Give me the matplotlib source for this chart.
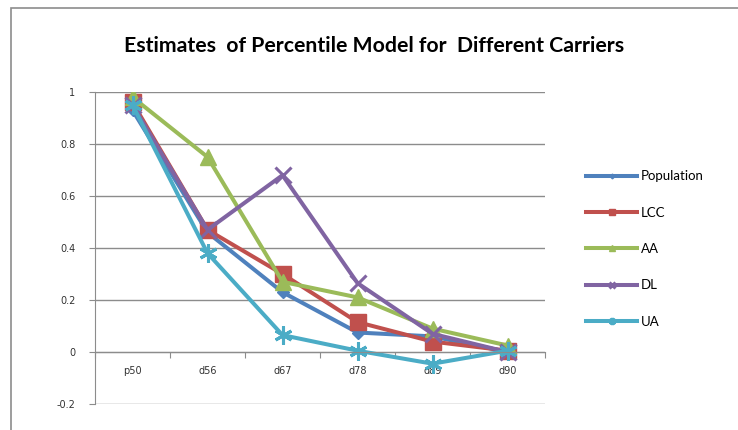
import matplotlib.pyplot as plt
from matplotlib.patches import Rectangle

categories = ['p50', 'd56', 'd67', 'd78', 'd89', 'd90']
population = [0.93, 0.46, 0.23, 0.075, 0.06, 0.0]
lcc = [0.96, 0.47, 0.30, 0.115, 0.04, 0.005]
aa = [0.98, 0.75, 0.27, 0.21, 0.09, 0.025]
dl = [0.95, 0.47, 0.68, 0.265, 0.07, 0.0]
ua = [0.95, 0.38, 0.065, 0.005, -0.045, 0.005]

series = [
    ('Population', population, '#4F81BD', 'D', 6),
    ('LCC', lcc, '#C0504D', 's', 11),
    ('AA', aa, '#9BBB59', '^', 12),
    ('DL', dl, '#8064A2', 'x', 12),
    ('UA', ua, '#4BACC6', (6, 2, 0), 13),
]

fig = plt.figure(figsize=(7.38, 4.30), dpi=100)
fig.patches.append(Rectangle((11 / 738, -0.2), 1.0, 1.0 - 8 / 430 + 0.2,
                             transform=fig.transFigure, fill=False,
                             edgecolor='#8c8c8c', linewidth=1.2))

ax = fig.add_axes([95 / 738, 1 - 404 / 430, 450 / 738, 312 / 430])
x = list(range(len(categories)))
for name, vals, color, marker, ms in series:
    ax.plot(x, vals, color=color, linewidth=2.9, marker=marker, markersize=ms,
            markeredgewidth=2.2 if marker in ('x', (6, 2, 0)) else 1,
            markeredgecolor=color, label=name)

ax.set_xlim(-0.5, 5.5)
ax.set_ylim(-0.2, 1.0)
ax.set_yticks([-0.2, 0, 0.2, 0.4, 0.6, 0.8, 1.0])
ax.set_yticklabels(['-0.2', '0', '0.2', '0.4', '0.6', '0.8', '1'])
ax.grid(axis='y', color='#8c8c8c', linewidth=1)
ax.set_axisbelow(True)

# category ticks sit between categories, labels at centers
ax.set_xticks([i - 0.5 for i in range(7)])
ax.set_xticklabels([])
ax.set_xticks(x, minor=True)
ax.set_xticklabels(categories, minor=True)
ax.tick_params(axis='x', which='major', direction='out', length=4, color='#8c8c8c')
ax.tick_params(axis='x', which='minor', length=0, pad=10, labelsize=7, labelcolor='#333333')
ax.tick_params(axis='y', length=4, color='#8c8c8c', labelsize=7, labelcolor='#333333', pad=10)

ax.spines['bottom'].set_position(('data', 0))
ax.spines['bottom'].set_color('#8c8c8c')
ax.spines['left'].set_color('#8c8c8c')
ax.spines['top'].set_visible(False)
ax.spines['right'].set_visible(False)

fig.text(374 / 738, 1 - 46 / 430, 'Estimates  of Percentile Model for  Different Carriers',
         ha='center', va='center', fontsize=15.3, fontweight='bold', family='Lato')

fig.legend(loc='center left', bbox_to_anchor=(574 / 738, 1 - 249 / 430),
           frameon=False, prop={'family': 'Lato', 'size': 9.5},
           markerscale=0.4, handlelength=3.9, handletextpad=0.25, labelspacing=1.85)

plt.savefig('out.png', dpi=100)
